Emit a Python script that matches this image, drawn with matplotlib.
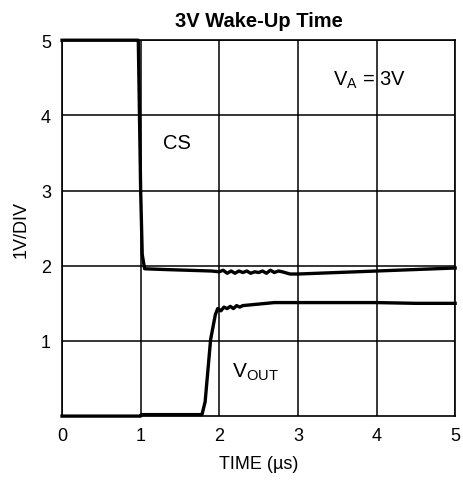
import numpy as np
import matplotlib
matplotlib.use("Agg")
from matplotlib import pyplot as plt

plt.rcParams['font.family'] = ['Liberation Sans', 'DejaVu Sans']

# CS trace (time in us, volts)
cs_t = [0.0, 0.97, 1.0, 1.02, 1.05, 1.3, 1.6, 1.9, 2.0, 2.05, 2.1, 2.15, 2.2, 2.25, 2.3, 2.35,
        2.4, 2.45, 2.5, 2.55, 2.6, 2.65, 2.7, 2.75, 2.8, 2.9, 3.0, 3.5, 4.0, 4.5, 5.0]
cs_v = [5.0, 5.0, 3.0, 2.15, 1.96, 1.95, 1.94, 1.93, 1.92, 1.94, 1.90, 1.93, 1.90, 1.93, 1.91, 1.93,
        1.90, 1.92, 1.91, 1.93, 1.90, 1.94, 1.91, 1.93, 1.92, 1.89, 1.89, 1.91, 1.93, 1.95, 1.97]

# VOUT trace
vout_t = [0.0, 1.0, 1.01, 1.78, 1.82, 1.89, 1.95, 1.98, 2.02, 2.06, 2.1, 2.14, 2.18, 2.22, 2.26,
          2.3, 2.4, 2.5, 2.7, 3.0, 3.5, 4.0, 4.5, 5.0]
vout_v = [0.0, 0.0, 0.02, 0.02, 0.19, 1.02, 1.35, 1.43, 1.40, 1.45, 1.43, 1.46, 1.43, 1.47, 1.45,
          1.47, 1.48, 1.49, 1.51, 1.51, 1.51, 1.51, 1.50, 1.50]

x_ticks = [0, 1, 2, 3, 4, 5]
y_ticks = [1, 2, 3, 4, 5]

fig = plt.figure(figsize=(4.63, 4.85), dpi=100)
ax = fig.add_axes([0.134, 0.140, 0.849, 0.775])

ax.plot(cs_t, cs_v, color='black', linewidth=2.4, solid_joinstyle='round', clip_on=False, zorder=3)
ax.plot(vout_t, vout_v, color='black', linewidth=2.4, solid_joinstyle='round', clip_on=False, zorder=3)

ax.set_xlim(0, 5)
ax.set_ylim(0, 5)
ax.set_xticks(x_ticks)
ax.set_yticks(y_ticks)
ax.tick_params(length=0, labelsize=13, pad=8)
ax.grid(True, color='black', linewidth=1.1)
for s in ax.spines.values():
    s.set_linewidth(1.2)

ax.set_title('3V Wake-Up Time', fontsize=14.5, fontweight='bold', pad=10)
ax.set_xlabel('TIME (µs)', fontsize=13, labelpad=8)
ax.set_ylabel('1V/DIV', fontsize=13, labelpad=8)

ax.text(1.28, 3.64, 'CS', fontsize=14.5, va='center')
ax.text(2.16, 0.6, r'V$_{\mathregular{OUT}}$', fontsize=15, va='center')
ax.text(3.45, 4.48, r'V$_{\mathregular{A}}$ = 3V', fontsize=14.5, va='center')

plt.savefig('out.png', dpi=100)
